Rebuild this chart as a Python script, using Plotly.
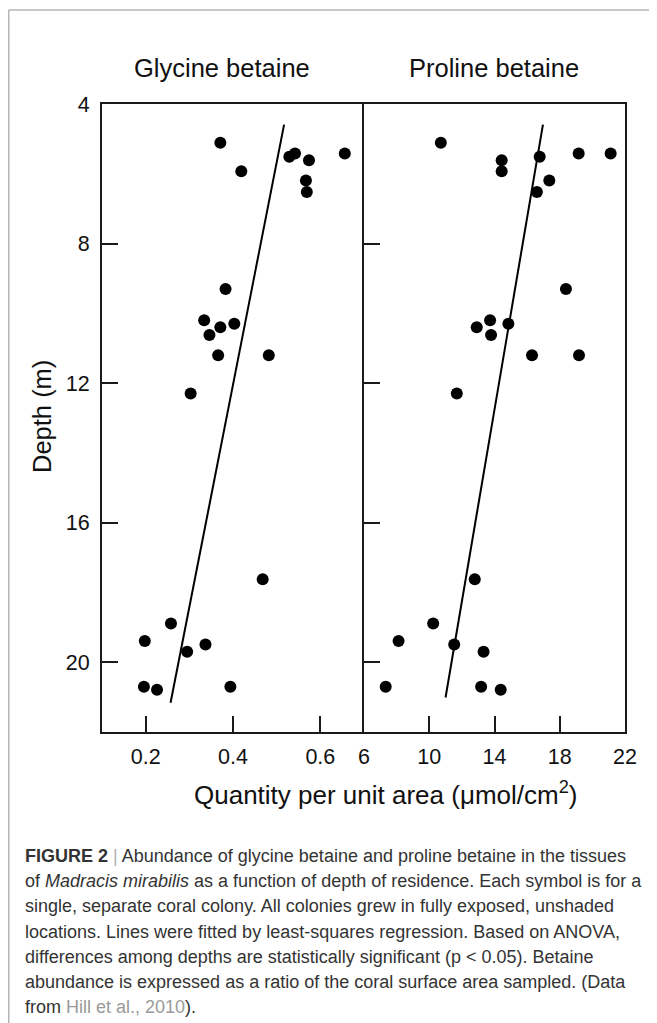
import plotly.graph_objects as go
from plotly.subplots import make_subplots

# ---- data ----
glycine_qty = [0.371, 0.542, 0.529, 0.574, 0.656, 0.419, 0.567, 0.569,
               0.383, 0.334, 0.403, 0.371, 0.346, 0.366, 0.482, 0.303,
               0.468, 0.258, 0.198, 0.337, 0.295, 0.196, 0.226, 0.394]
glycine_depth = [5.11, 5.42, 5.51, 5.61, 5.42, 5.93, 6.19, 6.52,
                 9.30, 10.20, 10.30, 10.40, 10.62, 11.20, 11.20, 12.30,
                 17.62, 18.89, 19.39, 19.49, 19.70, 20.70, 20.79, 20.70]
proline_qty = [10.71, 14.44, 14.44, 16.77, 19.16, 21.12, 17.36, 16.60,
               18.38, 13.73, 14.85, 12.91, 13.79, 16.30, 19.18, 11.69,
               12.79, 10.24, 8.12, 11.53, 13.33, 7.33, 13.18, 14.38]
proline_depth = [5.11, 5.61, 5.93, 5.51, 5.42, 5.42, 6.19, 6.52,
                 9.30, 10.20, 10.30, 10.40, 10.62, 11.20, 11.20, 12.30,
                 17.62, 18.89, 19.39, 19.49, 19.70, 20.70, 20.70, 20.79]
glycine_fit_qty = [0.517, 0.257]
glycine_fit_depth = [4.59, 21.16]
proline_fit_qty = [16.97, 11.0]
proline_fit_depth = [4.59, 21.01]

depth_ticks = [4, 8, 12, 16, 20]
glycine_ticks = [0.2, 0.4, 0.6]
proline_ticks = [6, 10, 14, 18, 22]

panel_titles = ["Glycine betaine", "Proline betaine"]
x_title = "Quantity per unit area (μmol/cm<sup>2</sup>)"
y_title = "Depth (m)"
caption_lines = [
    "<b>FIGURE 2</b> <span style='color:#b0b0b0'>|</span> Abundance of glycine betaine and proline betaine in the tissues",
    "of <i>Madracis mirabilis</i> as a function of depth of residence. Each symbol is for a",
    "single, separate coral colony. All colonies grew in fully exposed, unshaded",
    "locations. Lines were fitted by least-squares regression. Based on ANOVA,",
    "differences among depths are statistically significant (p &lt; 0.05). Betaine",
    "abundance is expressed as a ratio of the coral surface area sampled. (Data",
    "from <span style='color:#9a9a9a'>Hill et al., 2010</span>).",
]

# ---- geometry: page pixels; the page body adds an 8 px offset ----
OFF = 8
W, H = 657 - OFF, 1023 - OFF
L, R, T, B = 102 - OFF, 625 - OFF, 104 - OFF, 732 - OFF
PW, PH = R - L, B - T


def px(x_page):
    return (x_page - OFF - L) / PW


def py(y_page):
    return (B - (y_page - OFF)) / PH


FONT = "Liberation Sans, Arial, sans-serif"
AX = "#1a1a1a"

fig = make_subplots(rows=1, cols=2, horizontal_spacing=0, shared_yaxes=False)

marker = dict(color="black", size=12, line=dict(width=0))
fig.add_trace(go.Scatter(x=glycine_qty, y=glycine_depth, mode="markers",
                         marker=marker, showlegend=False), row=1, col=1)
fig.add_trace(go.Scatter(x=glycine_fit_qty, y=glycine_fit_depth, mode="lines",
                         line=dict(color="black", width=2), showlegend=False), row=1, col=1)
fig.add_trace(go.Scatter(x=proline_qty, y=proline_depth, mode="markers",
                         marker=marker, showlegend=False), row=1, col=2)
fig.add_trace(go.Scatter(x=proline_fit_qty, y=proline_fit_depth, mode="lines",
                         line=dict(color="black", width=2), showlegend=False), row=1, col=2)

split = (364 - OFF - L) / PW
common_axis = dict(showline=True, linecolor=AX, linewidth=2, mirror=True,
                   ticks="inside", ticklen=16, tickwidth=2, tickcolor=AX,
                   showgrid=False, zeroline=False,
                   tickfont=dict(family=FONT, size=21.5, color="#111"))

fig.update_xaxes(common_axis)
fig.update_yaxes(common_axis)
fig.update_layout(
    xaxis=dict(domain=[0, split], range=[0.1, 0.7], tickvals=glycine_ticks,
               ticktext=[f"{v:.1f}" for v in glycine_ticks], ticklabelstandoff=4),
    xaxis2=dict(domain=[split, 1], range=[6, 22], tickvals=proline_ticks,
                ticktext=[str(v) for v in proline_ticks], ticklabelstandoff=4),
    yaxis=dict(range=[22, 4], tickvals=depth_ticks, ticklabelstandoff=6, mirror=False),
    yaxis2=dict(range=[22, 4], tickvals=depth_ticks, showticklabels=False),
)

TITLE_SIZE = 25.5
annotations = []
for text, cx in zip(panel_titles, [222, 494]):
    annotations.append(dict(text=text, x=px(cx), y=py(68), xref="paper", yref="paper",
                            showarrow=False, xanchor="center", yanchor="middle",
                            font=dict(family=FONT, size=TITLE_SIZE, color="#111")))
annotations.append(dict(text=y_title, x=px(42), y=py(417), xref="paper", yref="paper",
                        showarrow=False, textangle=-90, xanchor="center", yanchor="middle",
                        font=dict(family=FONT, size=TITLE_SIZE, color="#111")))
annotations.append(dict(text=x_title, x=px(385), y=py(793), xref="paper", yref="paper",
                        showarrow=False, xanchor="center", yanchor="middle",
                        font=dict(family=FONT, size=26, color="#111")))
caption_y = [856, 881, 906, 932, 957, 982, 1007]
for text, cy in zip(caption_lines, caption_y):
    annotations.append(dict(text=text, x=px(23), y=py(cy), xref="paper", yref="paper",
                            showarrow=False, xanchor="left", yanchor="middle", align="left",
                            font=dict(family=FONT, size=18, color="#333333")))

shapes = [
    dict(type="line", xref="paper", yref="paper", x0=px(8.75), x1=px(8.75), y0=py(10), y1=py(1030),
         line=dict(color="#b5b5b5", width=1.5)),
    dict(type="line", xref="paper", yref="paper", x0=px(8.75), x1=px(680), y0=py(10), y1=py(10),
         line=dict(color="#b5b5b5", width=1.5)),
]

fig.update_layout(
    width=W, height=H,
    margin=dict(l=L, r=W - R, t=T, b=H - B, pad=0),
    paper_bgcolor="white", plot_bgcolor="white",
    annotations=annotations, shapes=shapes,
    showlegend=False,
)

fig.write_html("out.html")
